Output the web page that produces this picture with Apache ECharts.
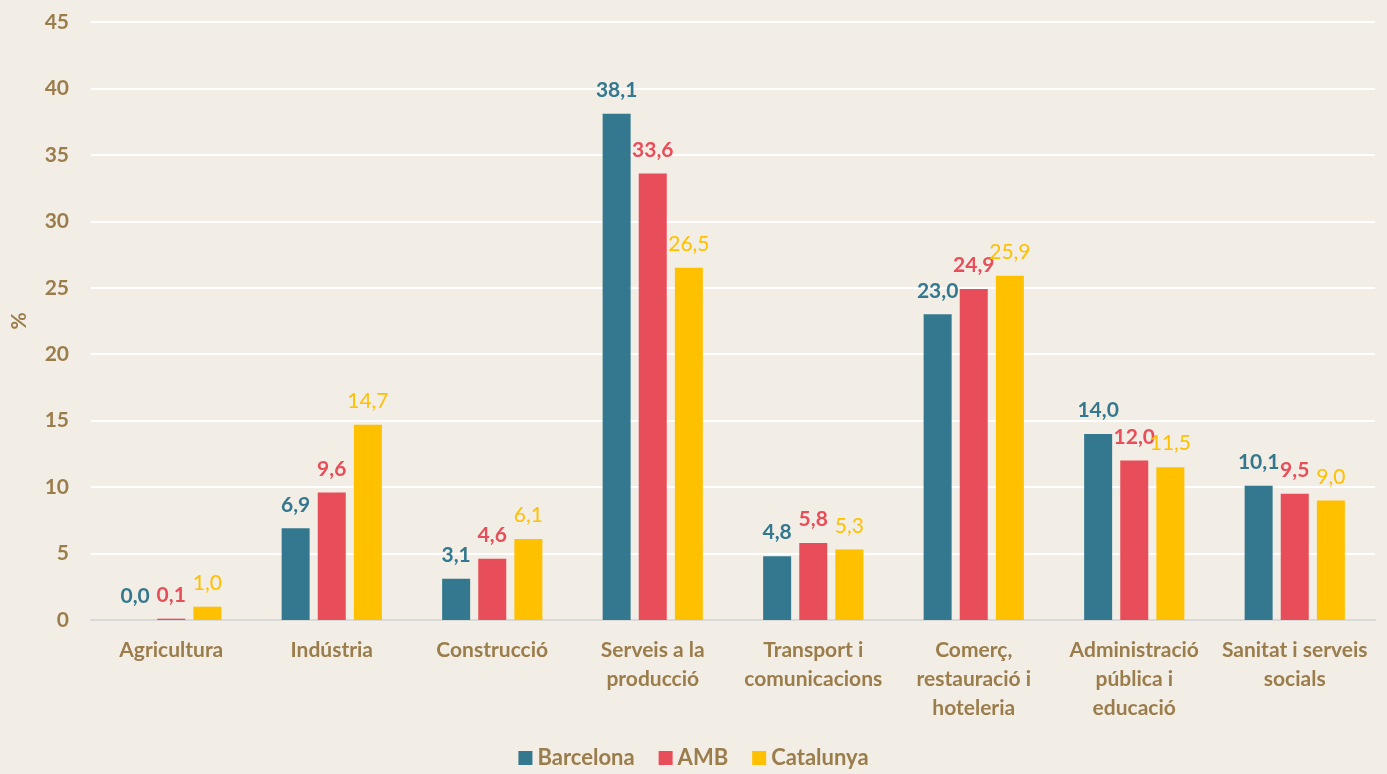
<!DOCTYPE html>
<html>
<head>
<meta charset="utf-8">
<script src="https://cdn.jsdelivr.net/npm/echarts@6/dist/echarts.min.js"></script>
<style>
  html, body { margin: 0; padding: 0; background: #F2EDE5; }
  #chart { width: 1387px; height: 774px; }
</style>
</head>
<body>
<div id="chart"></div>
<script>
// categories and values
const categories = ['Agricultura', 'Indústria', 'Construcció', 'Serveis a la\nproducció', 'Transport i\ncomunicacions', 'Comerç,\nrestauració i\nhoteleria', 'Administració\npública i\neducació', 'Sanitat i serveis\nsocials'];
const barcelona = [0.0, 6.9, 3.1, 38.1, 4.8, 23.0, 14.0, 10.1];
const amb = [0.1, 9.6, 4.6, 33.6, 5.8, 24.9, 12.0, 9.5];
const catalunya = [1.0, 14.7, 6.1, 26.5, 5.3, 25.9, 11.5, 9.0];

const brown = '#9B7D4B';
const font = 'Lato';

function fmt(p) {
  return p.value.toFixed(1).replace('.', ',');
}

function serie(name, data, color, bold) {
  return {
    name: name,
    type: 'bar',
    data: data,
    barWidth: 28,
    barGap: '29%',
    itemStyle: { color: color },
    label: {
      show: true,
      position: 'top',
      distance: 13,
      formatter: fmt,
      color: color,
      fontFamily: font,
      fontSize: 21,
      fontWeight: bold ? 'bold' : 'normal'
    }
  };
}

const chart = echarts.init(document.getElementById('chart'));
const option = {
  backgroundColor: '#F2EDE5',
  textStyle: { fontFamily: font },
  grid: { left: 91, right: 12, top: 22, bottom: 154, containLabel: false },
  legend: {
    bottom: 0,
    left: 'center',
    itemWidth: 14,
    itemHeight: 14,
    itemGap: 24,
    icon: 'rect',
    textStyle: { color: brown, fontSize: 22, fontWeight: 'bold', fontFamily: font },
    data: ['Barcelona', 'AMB', 'Catalunya']
  },
  xAxis: {
    type: 'category',
    data: categories,
    axisLine: { lineStyle: { color: '#D9D9D9', width: 2 } },
    axisTick: { show: false },
    axisLabel: {
      color: brown,
      fontSize: 21,
      fontWeight: 'bold',
      fontFamily: font,
      lineHeight: 29,
      margin: 16,
      interval: 0
    }
  },
  yAxis: {
    type: 'value',
    min: 0,
    max: 45,
    interval: 5,
    name: '%',
    nameLocation: 'middle',
    nameGap: 61,
    nameRotate: 90,
    nameTextStyle: { color: brown, fontSize: 21, fontWeight: 'bold', fontFamily: font },
    axisLine: { show: false },
    axisTick: { show: false },
    axisLabel: { color: brown, fontSize: 21, fontWeight: 'bold', fontFamily: font, margin: 22 },
    splitLine: { lineStyle: { color: '#FFFFFF', width: 2 } }
  },
  series: [
    serie('Barcelona', barcelona, '#34788F', true),
    serie('AMB', amb, '#E84E59', true),
    serie('Catalunya', catalunya, '#FFC000', false)
  ]
};
chart.setOption(option);
</script>
</body>
</html>
